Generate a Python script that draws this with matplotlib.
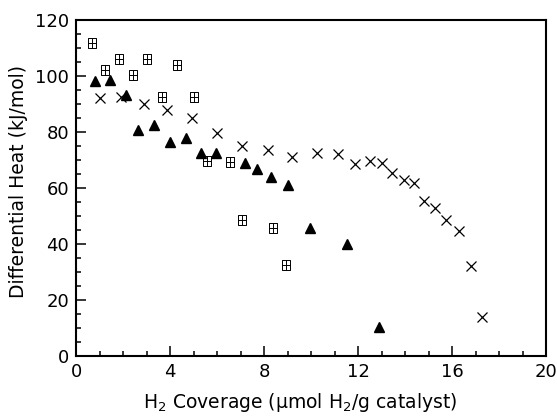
import numpy as np
import matplotlib
matplotlib.use("Agg")
from matplotlib import pyplot as plt
from matplotlib.path import Path
from matplotlib.ticker import MultipleLocator

# series: filled triangles
tri_x = [0.81, 1.44, 2.12, 2.65, 3.33, 3.99, 4.67, 5.34, 5.94, 7.19, 7.70, 8.28, 9.04, 9.94, 11.54, 12.91]
tri_y = [98.2, 98.6, 93.2, 80.6, 82.4, 76.5, 77.7, 72.5, 72.5, 68.9, 66.8, 63.9, 61.2, 45.8, 40.0, 10.5]

# series: crosses
crs_x = [1.02, 1.91, 2.90, 3.88, 4.94, 6.00, 7.06, 8.17, 9.20, 10.25, 11.14, 11.89, 12.51, 13.00,
         13.43, 13.94, 14.37, 14.82, 15.27, 15.74, 16.30, 16.80, 17.27]
crs_y = [92.2, 92.6, 90.0, 88.0, 85.0, 79.8, 74.9, 73.5, 71.1, 72.5, 72.3, 68.5, 69.7, 68.9,
         65.3, 62.9, 61.8, 55.3, 52.9, 48.7, 44.8, 32.3, 14.1]

# series: boxed-cross squares
box_x = [0.69, 1.23, 1.84, 2.43, 3.04, 3.66, 4.30, 5.00, 5.59, 6.54, 7.07, 8.40, 8.92]
box_y = [111.9, 102.1, 106.0, 100.4, 106.0, 92.6, 103.8, 92.6, 69.6, 69.3, 48.6, 45.7, 32.4]

# slightly tall box with a cross through the middle
verts = [(-0.75, -1), (0.75, -1), (0.75, 1), (-0.75, 1), (-0.75, -1),
         (0, -1), (0, 1), (-0.75, 0), (0.75, 0)]
codes = [Path.MOVETO, Path.LINETO, Path.LINETO, Path.LINETO, Path.CLOSEPOLY,
         Path.MOVETO, Path.LINETO, Path.MOVETO, Path.LINETO]
boxplus = Path(verts, codes)

plt.rcParams['font.family'] = ['DejaVu Sans']

fig = plt.figure(figsize=(5.57, 4.17), dpi=100)
ax = fig.add_axes([76 / 557, 1 - 356 / 417, 470 / 557, 336 / 417])

ax.plot(box_x, box_y, linestyle='none', marker=boxplus, markersize=7,
        markerfacecolor='none', markeredgecolor='black', markeredgewidth=0.7)
ax.plot(crs_x, crs_y, linestyle='none', marker='x', markersize=6.5,
        color='black', markeredgewidth=0.9)
ax.plot(tri_x, tri_y, linestyle='none', marker='^', markersize=7.5,
        color='black')

ax.set_xlim(0, 20)
ax.set_ylim(0, 120)
ax.xaxis.set_major_locator(MultipleLocator(4))
ax.xaxis.set_minor_locator(MultipleLocator(1))
ax.yaxis.set_major_locator(MultipleLocator(20))
ax.yaxis.set_minor_locator(MultipleLocator(5))
ax.tick_params(which='both', direction='in', width=1.1, labelsize=13)
ax.tick_params(which='major', length=7)
ax.tick_params(which='minor', length=3.5)
ax.tick_params(axis='x', pad=5)
ax.tick_params(axis='y', pad=5)
for s in ax.spines.values():
    s.set_linewidth(1.5)

ax.set_xlabel(r'H$_2$ Coverage ($\mathrm{\mu}$mol H$_2$/g catalyst)', fontsize=13.5)
ax.set_ylabel('Differential Heat (kJ/mol)', fontsize=13.5)
ax.xaxis.set_label_coords(0.477, -0.105)
ax.yaxis.set_label_coords(-0.103, 0.52)

fig.savefig('out.png', dpi=100)
